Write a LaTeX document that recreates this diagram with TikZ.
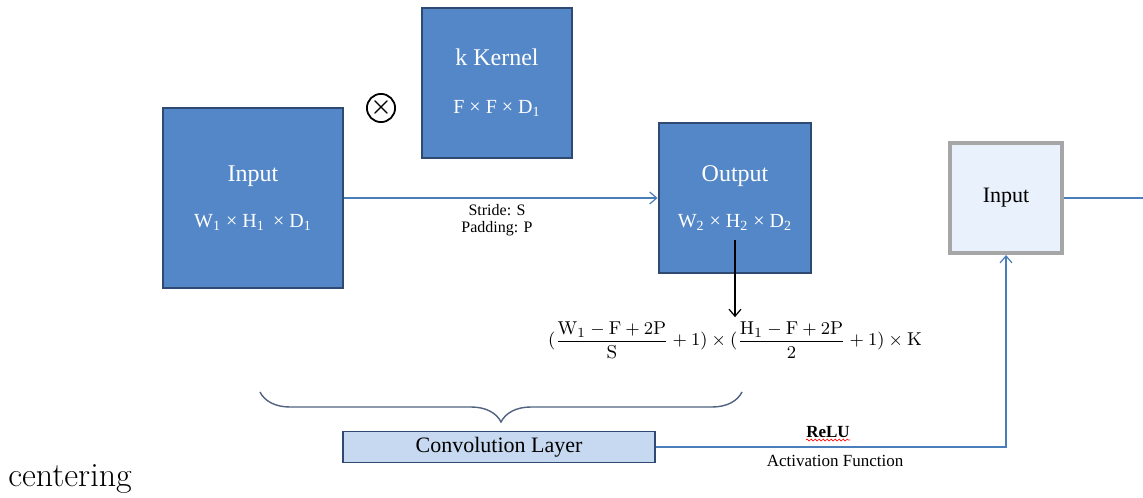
\documentclass[tikz,border=0pt]{standalone}
\usepackage{fontspec}
\usepackage{amsmath}
\usetikzlibrary{arrows.meta,calc,decorations.pathreplacing,decorations.pathmorphing}
\newfontfamily\boxfont{Liberation Serif}
\newcommand{\dimline}{\fontsize{10}{12}\selectfont}
\definecolor{boxblue}{HTML}{5487C7}
\definecolor{boxedge}{HTML}{2E4A72}
\definecolor{linkblue}{HTML}{4A7EBB}
\definecolor{convfill}{HTML}{C6D9F1}
\definecolor{palefill}{HTML}{E9F2FC}
\definecolor{paleedge}{HTML}{A6A6A6}
\definecolor{bracegray}{HTML}{4F6280}

\tikzset{
    bluebox/.style={draw=boxedge, line width=1.4pt, fill=boxblue, text=white, align=center,
        font=\boxfont\fontsize{12}{14}\selectfont},
    palebox/.style={draw=paleedge, line width=2pt, fill=palefill, text=black, align=center,
        minimum width=56pt, minimum height=55pt, font=\boxfont\fontsize{11}{13}\selectfont},
    convbox/.style={draw=boxedge, line width=0.8pt, fill=convfill, text=black,
        minimum width=156pt, minimum height=15.5pt, inner sep=0pt,
        font=\boxfont\fontsize{11}{13}\selectfont},
    smalltext/.style={inner sep=1pt, align=center, font=\boxfont\fontsize{8}{8.5}\selectfont},
    link/.style={draw=linkblue, line width=0.6pt},
    linkarrow/.style={link, -{Straight Barb[length=3.5pt,width=6pt]}}
}

\begin{document}
\begin{tikzpicture}[x=0.5pt, y=-0.5pt]
        \useasboundingbox (0,0) rectangle (1143,497);

        % Define the boxes
        \node[bluebox, minimum width=90pt, minimum height=90pt] (in) at (253,198)
            {Input\\[9pt]{\dimline W\textsubscript{1} × H\textsubscript{1}\, × D\textsubscript{1}}};
        \node[bluebox, minimum width=75pt, minimum height=75pt] (kernel) at (497,83)
            {k Kernel\\[10pt]{\dimline F × F × D\textsubscript{1}}};
        \node[bluebox, minimum width=76pt, minimum height=75pt] (out) at (735,198)
            {Output\\[9pt]{\dimline W\textsubscript{2} × H\textsubscript{2} × D\textsubscript{2}}};
        \node[circle, draw=black, line width=0.9pt, fill=white, minimum size=11pt, inner sep=0pt,
            font=\large\boldmath] (prod) at (381,108) {$\times$};
        \node[palebox] (next) at (1006,198) {Input};
        \node[convbox] (conv) at (499,447) {Convolution Layer};

        % Formula and labels
        \node[inner sep=2pt, font=\fontsize{9.3}{11}\selectfont] (formula) at (735,340)
            {$(\dfrac{\mathrm{W}_1-\mathrm{F}+2\mathrm{P}}{\mathrm{S}}+1)\times
              (\dfrac{\mathrm{H}_1-\mathrm{F}+2\mathrm{P}}{2}+1)\times\mathrm{K}$};
        \node[smalltext] (stride) at (497,220) {Stride: S\\Padding: P};
        \node[smalltext, font=\boxfont\bfseries\fontsize{8.5}{9}\selectfont] (relu) at (828,432) {ReLU};
        \node[smalltext, font=\boxfont\fontsize{8.5}{9}\selectfont] (act) at (835,461) {Activation Function};
        \node[inner sep=0pt, font=\fontsize{17}{20}\selectfont] (centering) at (70,479) {centering};

        \coordinate (braceL) at (260,392);
        \coordinate (braceR) at (742,392);
        \coordinate (exit) at (1143,198);

        % Connectors
        \draw[linkarrow] (in) -- (out);
        \draw[-{Straight Barb[length=3.5pt,width=6pt]}, line width=0.6pt] ($(out.center)+(0,42)$) -- (formula.north);
        \draw[linkarrow] (conv.east) -| (next.south);
        \draw[link] (next.east) -- (exit);
        \draw[bracegray, line width=0.7pt, decorate, decoration={brace, mirror, amplitude=15pt}] (braceL) -- (braceR);
        \draw[red, line width=0.3pt, decorate, decoration={snake, amplitude=0.5pt, segment length=2pt}]
            ($(relu.south west)+(2,0)$) -- ($(relu.south east)+(-2,0)$);

    \end{tikzpicture}
\end{document}
